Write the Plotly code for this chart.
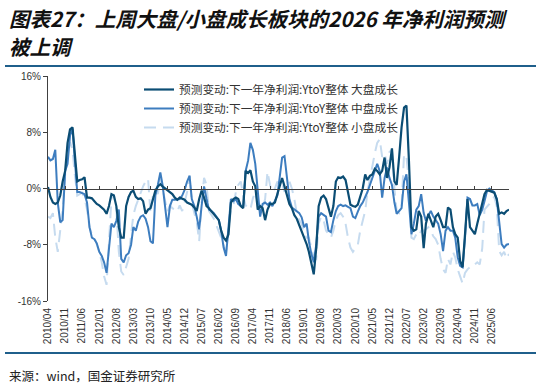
import pandas as pd
import plotly.graph_objects as go

# ---------------- data ----------------
start_month = "2010-04-01"

large_growth = [
    0.2, -1.2, -2.0, -2.2, -2.0, -1.0, 1.0, 2.5, 6.5, 8.4,
    8.7, 4.5, 1.0, 1.2, 1.3, 1.6, -1.3, -1.3, -1.4, -1.8,
    -2.2, -2.4, -2.7, -3.0, -3.6, -2.5, -0.8, -1.0, -2.5, -5.5,
    -7.0, -7.0, -2.5, -1.2, -0.5, -0.3, -1.2, -1.5, -1.4, -1.8,
    -3.6, -3.0, -2.8, -1.5, -0.3, 0.3, 0.6, 0.3, 0.0, -0.3,
    -0.5, -0.8, -1.3, -1.6, -1.3, -1.5, -1.6, -2.0, -2.2, -2.3,
    -2.7, -3.2, -1.5, -0.3, -1.3, -2.5, -2.8, -3.2, -3.6, -4.0,
    -4.5, -6.0, -7.0, -7.4, -6.5, -2.0, -1.5, -1.3, -1.5, -2.5,
    -2.8, 2.5, 2.2, 2.6, 1.0, 0.3, -3.0, -2.5, -2.8, -4.5,
    -3.0, -2.2, -2.2, -2.0, -0.8, 0.6, 1.5, 0.3, -0.8, -2.2,
    -2.8, -3.8, -4.3, -5.2, -6.0, -6.8, -7.9, -9.0, -10.5, -12.2,
    -8.5, -2.5, -1.3, -1.0, -1.5, -3.0, -4.0, -2.5, 1.0, 1.6,
    1.5, 1.7, 1.2, -0.5, -2.3, -2.5, -2.6, -2.3, -1.0, 0.0,
    2.0, 1.2, 1.8, 2.0, 2.8, 2.5, 2.0, 2.5, 4.4, 1.5,
    3.0, 5.7, 1.0, 0.5, 4.5, 8.7, 11.5, 11.8, 4.0, -5.5,
    -6.0, -5.8, -3.2, -4.0, -8.5, -5.0, -3.6, -4.5, -5.5, -4.0,
    -3.6, -4.5, -5.5, -5.5, -2.7, -3.0, -5.5, -6.5, -7.0, -10.3,
    -11.2, -6.5, -1.5, -5.5, -6.0, -6.5, -5.0, -3.5, -2.2, -0.8,
    -0.2, -0.3, -0.5, -0.6, -1.5, -3.6, -3.4, -3.6, -3.2, -3.0,
]

mid_growth = [
    4.5, 4.0, 4.2, 5.5, -2.0, -4.8, -4.5, 2.5, 3.5, 7.5,
    8.5, 4.0, -0.5, -0.5, -0.6, -0.8, -2.0, -5.5, -7.0, -7.2,
    -7.8, -9.0, -9.6, -10.5, -12.0, -9.0, -5.0, -5.5, -4.6, -3.0,
    -10.0, -10.5, -9.5, -9.2, -8.0, -5.5, -6.0, -4.7, -4.0, -3.8,
    -4.3, -5.5, -7.5, -7.8, -1.0, 0.5, 2.3, 0.5, -3.0, -5.5,
    -2.5, -1.6, -1.6, -1.5, -1.5, -1.0, -0.2, 1.0, 1.8, -1.5,
    -2.5, -4.0, -5.8, -2.5, 0.3, -1.5, -3.0, -3.2, -3.5, -4.0,
    -4.5, -6.0, -8.4, -9.6, -6.0, -1.5, -1.8, -1.5, -2.2, -2.5,
    -2.7, 2.5, 4.0, 6.5, 5.5, 3.5, -1.0, -4.0, -2.2, -2.0,
    -2.3, -2.0, -2.5, -1.8, -1.0, 1.5, 4.4, 4.6, 1.5, -1.5,
    -2.7, -3.0, -3.2, -3.5, -4.1, -5.5, -5.0, -7.5, -9.3, -10.5,
    -8.0, -4.0, -3.5, -3.8, -4.0, -6.0, -6.2, -4.5, -3.2, -2.5,
    -2.3, -2.5, -2.4, -2.6, -2.8, -4.0, -4.2, -3.3, -2.5, -2.0,
    -1.3, -0.5, 0.5, 1.5, 2.5, 3.5, 2.5, -1.3, 1.5, 3.0,
    1.5, 0.5, -2.0, -3.6, -3.2, -2.8, 1.0, 2.0, -2.0, -6.5,
    -5.0, -3.0, -2.5, -0.8, -3.5, -4.6, -3.8, -3.2, -4.0, -4.5,
    -5.0, -6.5, -8.9, -6.0, -5.5, -6.0, -6.0, -7.0, -9.8, -11.0,
    -11.2, -7.0, -1.3, -1.5, -2.4, -2.4, -2.2, -3.8, -3.0, -1.8,
    -0.4, 0.0, -0.2, -0.5, -1.5, -4.6, -7.9, -8.4, -8.0, -7.9,
]

small_growth = [
    -4.0, -4.2, -3.5, -7.0, -9.0, -5.5, -3.0, 2.0, 5.0, 6.6,
    5.5, 2.0, -1.0, -0.8, -0.6, -1.4, -3.0, -5.5, -6.5, -7.0,
    -8.0, -9.0, -10.5, -12.5, -13.7, -8.0, -1.4, -0.8, -3.0, -9.0,
    -11.8, -12.3, -11.0, -10.0, -6.5, -3.8, -2.5, -1.5, -0.5, 0.3,
    1.0, 1.4, -3.5, -1.0, 0.0, -0.8, 1.4, 0.0, -2.0, -3.3,
    -2.4, -2.8, -3.0, -3.3, -2.4, -3.2, -2.0, -0.5, 1.9, -2.0,
    -3.5, -4.7, -7.5, -2.0, 1.5, 0.5, -3.2, -3.8, -4.3, -5.2,
    -6.0, -7.0, -8.0, -9.0, -6.0, -3.0, -2.5, -0.5, 0.5, 1.0,
    -1.0, -2.4, -2.8, -3.0, -1.4, -0.5, -2.0, -2.4, -2.8, -1.5,
    2.4, 0.5, -0.5, 0.0, 1.0, 0.5, 0.8, -0.5, 0.5, 1.0,
    0.0, -1.5, -3.5, -4.5, -5.0, -6.5, -7.0, -7.0, -8.5, -9.8,
    -10.0, -5.0, -4.0, -4.5, -6.0, -6.5, -7.0, -6.0, -4.5, -3.8,
    -3.5, -4.0, -5.0, -7.0, -8.4, -9.0, -8.5, -8.0, -6.0, -4.5,
    -3.2, -0.5, 1.5, 3.5, 5.0, 6.5, 7.0, 4.5, 5.0, 3.5,
    5.2, 5.5, 0.0, -3.2, -3.5, -2.5, 4.9, 4.5, 1.0, -7.0,
    -7.2, -6.5, -6.8, -6.0, -6.0, -5.8, -5.5, -6.0, -6.8, -7.2,
    -8.0, -10.0, -11.5, -12.0, -10.0, -10.8, -9.0, -9.8, -11.5, -12.5,
    -13.5, -12.0, -11.5, -11.2, -10.8, -10.8, -10.5, -10.8, -8.5, -3.0,
    -2.5, -2.2, -1.5, -1.2, -2.5, -8.9, -9.5, -9.0, -10.0, -9.3,
]

series_names = [
    "预测变动:下一年净利润:YtoY整体 大盘成长",
    "预测变动:下一年净利润:YtoY整体 中盘成长",
    "预测变动:下一年净利润:YtoY整体 小盘成长",
]

tick_labels = [
    "2010/04", "2010/11", "2011/06", "2012/01", "2012/08", "2013/03", "2013/10",
    "2014/05", "2014/12", "2015/07", "2016/02", "2016/09", "2017/04", "2017/11",
    "2018/06", "2019/01", "2019/08", "2020/03", "2020/10", "2021/05", "2021/12",
    "2022/07", "2023/02", "2023/09", "2024/04", "2024/11", "2025/06",
]
y_ticks = [-16, -8, 0, 8, 16]

title_line1 = "图表27：上周大盘/小盘成长板块的2026 年净利润预测"
title_line2 = "被上调"
source_text = "来源：wind，国金证券研究所"

# --------------- figure ---------------
dates = pd.date_range(start_month, periods=len(large_growth), freq="MS")
tick_vals = [pd.Timestamp(t.replace("/", "-") + "-01") for t in tick_labels]

W, H = 541, 385
L, R, T, B = 48, 32, 76, 84
pw, ph = W - L - R, H - T - B

def px_x(p):
    return (p - L) / pw

def px_y(p):
    return (H - B - p) / ph

col_large = "#0b4d74"
col_mid = "#3d7dbf"
col_small = "#c6dbef"

fig = go.Figure()
fig.add_trace(go.Scatter(x=dates, y=small_growth, mode="lines", name=series_names[2],
                         line=dict(color=col_small, width=2, dash="12px,7px"),
                         legendgroup="s", legendrank=3))
fig.add_trace(go.Scatter(x=dates, y=mid_growth, mode="lines", name=series_names[1],
                         line=dict(color=col_mid, width=2), legendgroup="m", legendrank=2))
fig.add_trace(go.Scatter(x=dates, y=large_growth, mode="lines", name=series_names[0],
                         line=dict(color=col_large, width=2.2), legendgroup="l", legendrank=1))

axis_font = dict(family="Arial, Liberation Sans, sans-serif", size=10, color="#333333")

fig.update_layout(
    width=W, height=H,
    margin=dict(l=L, r=R, t=T, b=B, pad=0),
    paper_bgcolor="white", plot_bgcolor="white",
    showlegend=True,
    legend=dict(
        x=px_x(139), y=px_y(75), xanchor="left", yanchor="top",
        bgcolor="rgba(0,0,0,0)", borderwidth=0,
        font=dict(family="Noto Sans CJK SC, sans-serif", size=11.7, color="#333333"),
        tracegroupgap=0, itemwidth=30,
    ),
    xaxis=dict(
        type="date",
        range=[dates[0], dates[-1]],
        tickmode="array", tickvals=tick_vals, ticktext=tick_labels,
        tickangle=-90, tickfont=axis_font,
        showline=False, showgrid=False, zeroline=False, ticks="",
        ticklabelstandoff=4,
    ),
    xaxis2=dict(
        type="date", matches="x", overlaying="x", anchor="free", position=0.5,
        tickmode="array", tickvals=tick_vals, showticklabels=False,
        showline=True, linecolor="#404040", linewidth=1,
        ticks="inside", ticklen=3, tickcolor="#404040",
        showgrid=False, zeroline=False,
    ),
    yaxis=dict(
        range=[-16, 16], tickmode="array", tickvals=y_ticks,
        ticktext=[f"{v}%" for v in y_ticks],
        tickfont=axis_font,
        showline=True, linecolor="#404040", linewidth=1,
        ticks="outside", ticklen=4, tickcolor="#404040",
        showgrid=False, zeroline=False,
    ),
)

# invisible trace binding the zero-line axis
fig.add_trace(go.Scatter(x=[dates[0]], y=[0], xaxis="x2", mode="markers",
                         marker=dict(opacity=0), showlegend=False, hoverinfo="skip"))

title_font = dict(family="Noto Sans CJK SC, sans-serif", size=20.5, color="#111111",
                  weight="bold", style="italic")
fig.add_annotation(text=title_line1, xref="paper", yref="paper",
                   x=px_x(7), y=px_y(17.5), xanchor="left", yanchor="middle",
                   showarrow=False, font=title_font)
fig.add_annotation(text=title_line2, xref="paper", yref="paper",
                   x=px_x(7), y=px_y(46.5), xanchor="left", yanchor="middle",
                   showarrow=False, font=title_font)
fig.add_annotation(text=source_text, xref="paper", yref="paper",
                   x=px_x(7), y=px_y(375), xanchor="left", yanchor="middle",
                   showarrow=False,
                   font=dict(family="Noto Sans CJK SC, sans-serif", size=12.5, color="#222222"))

rule_color = "#1f5f8b"
for yy in (66, 353):
    fig.add_shape(type="line", xref="paper", yref="paper",
                  x0=px_x(5), x1=px_x(536), y0=px_y(yy), y1=px_y(yy),
                  line=dict(color=rule_color, width=2))

fig.write_html("out.html", config={"displayModeBar": False},
               post_script="document.body.style.margin='0';")
